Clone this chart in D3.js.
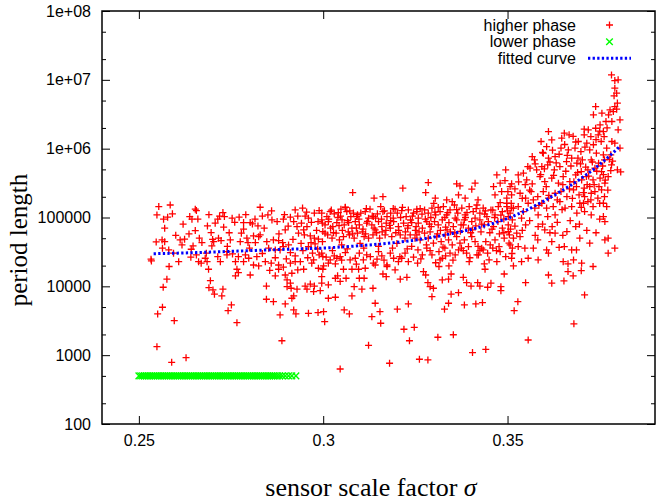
<!DOCTYPE html>
<html><head><meta charset="utf-8">
<script src="https://cdn.jsdelivr.net/npm/d3@7"></script>
<style>html,body{margin:0;padding:0;background:#fff;}svg{display:block;}</style>
</head><body>
<svg id="chart" width="662" height="502"></svg>
<script>
const xTicks=[0.25,0.3,0.35];
const xTickLabels=["0.25","0.3","0.35"];
const yTicks=[100,1000,10000,100000,1e6,1e7,1e8];
const yTickLabels=["100","1000","10000","100000","1e+06","1e+07","1e+08"];
const yMinorTicks=[200,500,2000,5000,20000,50000,200000,500000,2e6,5e6,2e7,5e7];
const seriesNames=["higher phase","lower phase","fitted curve"];
const axisTitleX="sensor scale factor ";
const axisTitleXSymbol="\u03C3";
const axisTitleY="period length";

const higherPhase=[
[0.2554,144000],[0.2585,152000],[0.2549,109000],[0.2567,94500],[0.2578,101000],[0.2591,113000],[0.2638,103000],[0.2644,94500],[0.2653,132000],[0.2656,126000],[0.2686,75500],[0.2696,60300],[0.2707,82600],[0.2714,94500],[0.2719,105000],[0.2728,118000],[0.2732,103000],[0.2730,72300],[0.2547,44200],[0.2563,47300],[0.2570,44600],[0.2564,35800],[0.2581,33800],[0.2594,30300],[0.2612,47300],[0.2624,48400],[0.2617,40000],[0.2636,57800],[0.2653,64500],[0.2664,50000],[0.2671,43200],[0.2647,38700],[0.2642,34600],[0.2641,26500],[0.2656,28600],[0.2662,22800],[0.2669,21700],[0.2680,25600],[0.2685,22800],[0.2683,30300],[0.2698,38700],[0.2703,44600],[0.2716,50000],[0.2723,46200],[0.2714,27000],[0.2721,22800],[0.2739,28600],[0.2533,24800],[0.2608,22800],[0.2582,19400],[0.2689,17700],[0.2576,12700],[0.2566,9700],[0.2694,12100],[0.2690,9570],[0.2701,8860],[0.2705,7680],[0.2725,7250],[0.2728,9080],[0.2564,4970],[0.2551,3970],[0.2596,3170],[0.2742,4430],[0.2549,1330],[0.2628,920],[0.2589,788],[0.2534,23400],[0.2766,2970],
[0.2829,141000],[0.2753,97700],[0.2772,101000],[0.2784,84300],[0.2802,84300],[0.2808,80700],[0.2823,75500],[0.2835,105000],[0.2850,109000],[0.2861,92300],[0.2875,87200],[0.2892,94500],[0.2911,101000],[0.2924,129000],[0.2931,105000],[0.2944,137000],[0.2951,105000],[0.2960,97700],[0.2976,116000],[0.2989,126000],[0.2996,116000],[0.2986,87200],[0.2998,82600],[0.2920,87200],[0.2929,73800],[0.2941,82600],[0.2947,66000],[0.2956,73800],[0.2933,59100],[0.2949,55900],[0.2965,54000],[0.2976,50000],[0.2987,48400],[0.2998,44600],[0.3005,59100],[0.2967,43200],[0.2978,41400],[0.2960,37800],[0.2971,30300],[0.2989,28600],[0.2999,27000],[0.2974,24200],[0.2969,21700],[0.2784,67600],[0.2778,59100],[0.2748,47300],[0.2775,44600],[0.2793,50000],[0.2796,43200],[0.2811,54000],[0.2816,43200],[0.2825,52700],[0.2829,55900],[0.2847,44600],[0.2865,47300],[0.2879,46200],[0.2890,43200],[0.2897,66000],[0.2892,37800],[0.2906,40000],[0.2852,35800],[0.2870,33800],[0.2883,33800],[0.2911,30900],[0.2924,27700],[0.2739,31900],[0.2754,29600],[0.2770,27000],[0.2789,28600],[0.2798,25600],[0.2762,22800],[0.2784,22800],[0.2843,22800],[0.2859,21700],[0.2879,20400],[0.2892,19000],[0.2911,21700],[0.2924,22800],[0.2879,17700],[0.2811,20400],[0.2825,19800],[0.2766,17700],[0.2770,15800],[0.2762,14200],[0.2802,14600],[0.2870,14200],[0.2897,14600],[0.2915,15500],[0.2931,17300],[0.2947,17700],[0.2938,22800],[0.2987,18300],[0.3001,19800],[0.2996,13800],[0.2902,12400],[0.2911,11100],[0.2902,9900],[0.2913,9380],[0.2929,9080],[0.2951,10100],[0.2956,9080],[0.2965,10800],[0.2976,10100],[0.2974,8380],[0.2992,8660],[0.2846,10100],[0.2915,6710],[0.2920,7250],[0.2846,6490],[0.2865,5990],[0.2897,5550],[0.2751,5370],[0.2920,4540],[0.2926,3970],[0.2883,3840],[0.2960,4060],[0.2986,4150],[0.3001,4290],[0.3004,3070],[0.2888,1620],
[0.3080,230000],[0.3138,191000],[0.3162,201000],[0.3216,267000],[0.3010,103000],[0.3019,122000],[0.3030,113000],[0.3041,118000],[0.3048,132000],[0.3060,141000],[0.3064,122000],[0.3075,103000],[0.3082,116000],[0.3091,103000],[0.3102,116000],[0.3114,122000],[0.3123,97700],[0.3127,132000],[0.3136,103000],[0.3147,113000],[0.3156,144000],[0.3162,122000],[0.3173,103000],[0.3183,116000],[0.3195,132000],[0.3201,116000],[0.3213,126000],[0.3225,103000],[0.3231,129000],[0.3245,116000],[0.3254,132000],[0.3258,97700],[0.2996,92300],[0.3005,78100],[0.3014,87200],[0.3026,73800],[0.3037,84300],[0.3051,92300],[0.3057,78100],[0.3069,84300],[0.3078,69900],[0.3087,87200],[0.3098,78100],[0.3108,67600],[0.3118,82600],[0.3132,78100],[0.3141,66000],[0.3150,87200],[0.3159,73800],[0.3171,82600],[0.3182,69900],[0.3191,87200],[0.3204,73800],[0.3218,82600],[0.3229,69900],[0.3240,84300],[0.3252,73800],[0.2999,62400],[0.3012,55900],[0.3024,50000],[0.3035,59100],[0.3044,47300],[0.3055,52700],[0.3071,55900],[0.3084,50000],[0.3093,59100],[0.3111,52700],[0.3123,50000],[0.3135,55900],[0.3153,50000],[0.3168,55900],[0.3186,52700],[0.3209,55900],[0.3222,50000],[0.3236,55900],[0.3249,50000],[0.2996,30300],[0.3008,26500],[0.3019,24200],[0.3030,27700],[0.3037,25600],[0.3014,21700],[0.3033,21200],[0.3046,27000],[0.3060,30900],[0.3073,24200],[0.3087,25600],[0.3098,30300],[0.3109,24200],[0.3118,28600],[0.3136,21700],[0.3141,20400],[0.3146,24800],[0.3159,27700],[0.3173,20400],[0.3182,30300],[0.3191,25600],[0.3204,22800],[0.3213,25600],[0.3222,30300],[0.3231,22800],[0.3245,26500],[0.3256,21700],[0.2999,17700],[0.3055,17700],[0.3078,17700],[0.3096,17700],[0.3114,18300],[0.3173,19400],[0.3195,17300],[0.3033,13100],[0.3039,14200],[0.3062,13100],[0.3098,13100],[0.3111,13100],[0.3162,15100],[0.3171,13800],[0.3209,12700],[0.3227,13500],[0.2996,11100],[0.3014,10500],[0.3046,11800],[0.3084,9900],[0.3105,9080],[0.3135,9380],[0.3014,6710],[0.3033,6940],[0.3078,7250],[0.3057,4540],[0.3071,3970],[0.3141,5680],[0.3154,4290],[0.3132,3630],[0.3156,2910],[0.3201,4650],[0.3231,5550],[0.3219,2380],[0.3247,2540],[0.3234,1620],[0.3123,1390],[0.3180,763],[0.3046,630],[0.3261,872],
[0.3495,492000],[0.3285,322000],[0.3362,308000],[0.3371,288000],[0.3412,315000],[0.3471,416000],[0.3278,230000],[0.3304,191000],[0.3335,180000],[0.3403,258000],[0.3367,213000],[0.3385,191000],[0.3462,281000],[0.3480,315000],[0.3493,344000],[0.3507,281000],[0.3466,213000],[0.3484,238000],[0.3498,191000],[0.3511,213000],
[0.3254,122000],[0.3275,129000],[0.3285,116000],[0.3295,137000],[0.3305,109000],[0.3317,122000],[0.3326,144000],[0.3335,109000],[0.3344,129000],[0.3356,152000],[0.3365,116000],[0.3376,137000],[0.3385,109000],[0.3396,144000],[0.3407,122000],[0.3417,152000],[0.3425,116000],[0.3434,137000],[0.3444,103000],[0.3455,129000],[0.3466,109000],[0.3475,144000],[0.3486,122000],[0.3498,144000],[0.3507,116000],[0.3516,137000],
[0.3258,82600],[0.3269,69900],[0.3281,87200],[0.3293,73800],[0.3302,87200],[0.3312,78100],[0.3323,92300],[0.3332,72300],[0.3341,84300],[0.3353,73800],[0.3362,92300],[0.3374,78100],[0.3383,92300],[0.3394,69900],[0.3403,87200],[0.3414,75500],[0.3425,92300],[0.3437,78100],[0.3448,87200],[0.3462,73800],[0.3474,87200],[0.3486,69900],[0.3502,78100],[0.3513,92300],
[0.3254,55900],[0.3263,47300],[0.3275,59100],[0.3285,50000],[0.3299,42300],[0.3308,52700],[0.3320,44600],[0.3331,55900],[0.3340,47300],[0.3350,40000],[0.3362,52700],[0.3371,42300],[0.3383,47300],[0.3394,37800],[0.3403,52700],[0.3412,44600],[0.3430,35800],[0.3441,44600],[0.3453,40000],[0.3466,47300],[0.3477,37800],[0.3491,50000],[0.3504,42300],[0.3516,50000],
[0.3257,33800],[0.3269,28600],[0.3281,35800],[0.3295,28600],[0.3314,31900],[0.3323,25600],[0.3344,30300],[0.3358,28600],[0.3367,33800],[0.3389,30300],[0.3421,28600],[0.3434,33800],[0.3446,30300],[0.3480,31900],[0.3513,35800],
[0.3317,24200],[0.3332,27700],[0.3396,22800],[0.3417,28600],[0.3450,24200],[0.3471,22800],[0.3314,19400],[0.3341,19800],[0.3437,21200],[0.3439,17700],[0.3516,19800],[0.3272,16400],[0.3278,14600],[0.3347,15100],[0.3323,12400],[0.3340,12700],[0.3491,15100],[0.3284,11300],[0.3290,9900],[0.3299,9380],[0.3380,13500],[0.3389,11300],[0.3401,10100],[0.3419,11300],[0.3425,10100],[0.3446,9700],[0.3455,11100],[0.3482,9900],[0.3482,8660],[0.3295,7080],[0.3347,7680],[0.3367,8100],[0.3340,5680],[0.3329,4650],[0.3383,5370],[0.3414,5550],[0.3432,5800],[0.3518,4430],[0.3311,1820],[0.3353,1980],[0.3405,1090],[0.3441,1210],[0.3284,852],
[0.3611,1770000],[0.3654,1680000],[0.3667,1590000],[0.3708,1920000],[0.3591,1270000],[0.3620,1340000],[0.3606,1070000],[0.3647,1420000],[0.3678,1510000],[0.3692,1270000],[0.3567,768000],[0.3573,688000],[0.3597,860000],[0.3611,728000],[0.3629,768000],[0.3645,1020000],[0.3665,960000],[0.3683,1020000],[0.3699,908000],[0.3561,521000],[0.3543,440000],[0.3579,492000],[0.3593,549000],[0.3609,581000],[0.3627,492000],[0.3642,549000],[0.3660,649000],[0.3674,728000],[0.3688,616000],[0.3703,688000],[0.3529,416000],[0.3511,308000],[0.3552,352000],[0.3567,308000],[0.3588,393000],[0.3601,333000],[0.3620,373000],[0.3638,315000],[0.3651,393000],[0.3669,333000],[0.3685,416000],[0.3701,352000],[0.3501,238000],[0.3534,225000],[0.3549,191000],[0.3564,238000],[0.3582,201000],[0.3597,238000],[0.3611,191000],[0.3629,225000],[0.3645,238000],[0.3661,201000],[0.3679,252000],[0.3694,213000],[0.3708,267000],[0.3498,161000],[0.3511,137000],[0.3529,144000],[0.3543,122000],[0.3556,161000],[0.3574,137000],[0.3593,161000],[0.3606,137000],[0.3624,144000],[0.3642,170000],[0.3656,137000],[0.3674,144000],[0.3688,116000],[0.3706,161000],[0.3502,103000],[0.3538,97700],[0.3549,78100],[0.3583,109000],[0.3609,103000],[0.3629,109000],[0.3502,62400],[0.3525,59100],[0.3534,52700],[0.3583,73800],[0.3601,66000],[0.3621,73800],[0.3629,59100],[0.3661,62400],[0.3685,73800],[0.3507,40000],[0.3529,37800],[0.3547,35800],[0.3570,35800],[0.3582,47300],[0.3606,33800],[0.3620,44600],[0.3654,37800],[0.3674,33800],[0.3511,25600],[0.3538,22800],[0.3556,25600],[0.3583,24200],[0.3611,30300],[0.3651,22800],[0.3679,24200],[0.3701,21700],[0.3664,16400],[0.3611,14600],[0.3620,11100],[0.3549,11300],[0.3528,5990],[0.3680,2850],[0.3556,1660],[0.3653,12000],[0.3678,14200],[0.3664,21200],[0.3640,36800],
[0.3782,11800000],[0.3791,9770000],[0.3800,10000000],[0.3791,7570000],[0.3796,6410000],[0.3789,5850000],[0.3798,4590000],[0.3791,4090000],[0.3739,4090000],[0.3778,3660000],[0.3787,3460000],[0.3796,3750000],[0.3733,3100000],[0.3756,3280000],[0.3774,3100000],[0.3783,2480000],[0.3805,2620000],[0.3751,2220000],[0.3767,2480000],[0.3800,1880000],[0.3719,1880000],[0.3739,1980000],[0.3708,1590000],[0.3726,1500000],[0.3746,1590000],[0.3760,1770000],[0.3783,1270000],[0.3791,1200000],[0.3805,1020000],[0.3715,1200000],[0.3733,1140000],[0.3754,1270000],[0.3769,1020000],[0.3723,960000],[0.3741,860000],[0.3760,813000],[0.3780,813000],[0.3691,728000],[0.3727,688000],[0.3747,616000],[0.3763,688000],[0.3782,581000],[0.3798,492000],[0.3700,465000],[0.3718,492000],[0.3737,521000],[0.3755,465000],[0.3773,393000],[0.3714,393000],[0.3732,352000],[0.3751,373000],[0.3764,315000],[0.3687,281000],[0.3723,281000],[0.3737,238000],[0.3755,252000],[0.3709,201000],[0.3727,225000],[0.3745,191000],[0.3763,201000],[0.3696,161000],[0.3718,170000],[0.3732,144000],[0.3760,161000],[0.3769,144000],[0.3709,122000],[0.3727,109000],[0.3760,103000],[0.3764,87200],[0.3696,50000],[0.3723,42300],[0.3764,47300],[0.3773,50000],[0.3791,35800],[0.3773,30300],[0.3687,33800],[0.3700,16900],[0.3732,19400],[0.3709,7500],[0.3807,460000],
[0.3575,600000],[0.3590,420000],[0.3605,280000],[0.3615,640000],[0.3625,410000],[0.3635,180000],[0.3640,830000],[0.3650,300000],[0.3658,470000],[0.3668,260000],[0.3672,560000],[0.3680,330000],[0.3690,450000],[0.3698,600000],[0.3706,230000],[0.3712,540000],[0.3720,400000],[0.3730,640000],[0.3735,300000],[0.3742,470000],[0.3750,160000],[0.3758,560000],[0.3765,350000],[0.3772,250000],[0.3780,480000],[0.3785,660000],[0.3560,250000],[0.3570,180000],[0.3585,150000],[0.3600,510000],[0.3612,210000],[0.3632,620000],[0.3648,130000],[0.3662,800000],[0.3676,190000],[0.3700,140000],[0.3716,300000],[0.3726,180000],[0.3748,280000],[0.3760,420000],[0.3776,700000],[0.3548,300000],[0.3555,550000],[0.3540,190000],[0.3530,330000],[0.3520,260000],[0.3510,160000],[0.3595,880000],[0.3622,950000],[0.3655,1150000],[0.3685,1250000],[0.3710,1050000],[0.3740,1350000],[0.3762,1500000],[0.3770,2000000],[0.3750,1800000],
[0.3015,95000],[0.3028,60000],[0.3040,100000],[0.3052,65000],[0.3066,90000],[0.3080,58000],[0.3093,110000],[0.3106,62000],[0.3120,88000],[0.3133,105000],[0.3145,60000],[0.3158,95000],[0.3170,65000],[0.3183,90000],[0.3197,60000],[0.3210,100000],[0.3223,62000],[0.3237,92000],[0.3250,65000],[0.3263,135000],[0.3277,95000],[0.3290,62000],[0.3303,120000],[0.3318,65000],[0.3330,100000],[0.3345,62000],[0.3358,98000],[0.3372,63000],[0.3386,100000],[0.3400,60000],[0.3412,98000],[0.3428,62000],[0.3440,125000],[0.3452,60000],[0.3465,100000],[0.3478,58000],[0.3490,95000],[0.3505,56000],[0.3050,40000],[0.3100,42000],[0.3150,38000],[0.3200,42000],[0.3240,38000],[0.3280,40000],[0.3330,36000],[0.3380,33000],[0.3420,38000],[0.3470,33000],[0.3512,30000],[0.3060,140000],[0.3190,135000],[0.3300,160000],[0.3350,170000],[0.3420,180000],[0.3480,165000],
[0.3022,128000],[0.3047,105000],[0.3072,125000],[0.3097,95000],[0.3117,135000],[0.3142,98000],[0.3166,125000],[0.3190,98000],[0.3215,140000],[0.3242,105000],[0.3268,112000],[0.3292,100000],[0.3312,140000],[0.3338,118000],[0.3362,130000],[0.3390,118000],[0.3415,135000],[0.3438,112000],[0.3460,128000],[0.3482,108000],[0.3500,125000],
[0.3020,70000],[0.3043,76000],[0.3068,62000],[0.3090,70000],[0.3115,58000],[0.3138,70000],[0.3160,62000],[0.3180,77000],[0.3205,65000],[0.3230,76000],[0.3260,62000],[0.3288,80000],[0.3310,58000],[0.3336,66000],[0.3357,60000],[0.3380,78000],[0.3405,66000],[0.3430,80000],[0.3458,68000],[0.3490,60000],[0.3508,68000],
[0.3025,33000],[0.3050,24000],[0.3065,35000],[0.3090,21000],[0.3110,36000],[0.3128,27000],[0.3150,32000],[0.3165,24000],[0.3188,36000],[0.3208,27000],[0.3228,35000],[0.3265,25000],[0.3290,33000],[0.3305,22000],[0.3325,37000],[0.3352,24000],[0.3375,36000],[0.3398,26000],[0.3425,33000],[0.3460,36000],[0.3495,27000],
[0.2570,70000],[0.2600,55000],[0.2620,80000],[0.2660,95000],[0.2690,110000],[0.2700,48000],[0.2745,60000],[0.2760,85000],[0.2790,110000],[0.2815,95000],[0.2840,70000],[0.2860,125000],[0.2880,58000],[0.2895,110000],[0.2905,75000],[0.2918,48000],[0.2940,42000],[0.2955,120000],[0.2968,85000],[0.2982,65000],[0.2740,38000],[0.2800,36000],[0.2835,30000],[0.2870,26000],[0.2900,25000],[0.2945,33000],[0.2958,26000],[0.2985,35000],[0.2855,17000],[0.2820,27000],
[0.3520,75000],[0.3540,65000],[0.3560,90000],[0.3575,55000],[0.3595,80000],[0.3615,60000],[0.3635,85000],[0.3650,55000],[0.3670,90000],[0.3695,80000],[0.3715,65000],[0.3740,60000],[0.3750,95000]
];

const lowerPhase=[
[0.2500,500],[0.2505,500],[0.2510,500],[0.2515,500],[0.2520,500],[0.2525,500],[0.2530,500],[0.2535,500],[0.2540,500],[0.2545,500],
[0.2550,500],[0.2555,500],[0.2560,500],[0.2565,500],[0.2570,500],[0.2575,500],[0.2580,500],[0.2585,500],[0.2590,500],[0.2595,500],
[0.2600,500],[0.2605,500],[0.2610,500],[0.2615,500],[0.2620,500],[0.2625,500],[0.2630,500],[0.2635,500],[0.2640,500],[0.2645,500],
[0.2650,500],[0.2655,500],[0.2660,500],[0.2665,500],[0.2670,500],[0.2675,500],[0.2680,500],[0.2685,500],[0.2690,500],[0.2695,500],
[0.2700,500],[0.2705,500],[0.2710,500],[0.2715,500],[0.2720,500],[0.2725,500],[0.2730,500],[0.2735,500],[0.2740,500],[0.2745,500],
[0.2750,500],[0.2755,500],[0.2760,500],[0.2765,500],[0.2770,500],[0.2775,500],[0.2780,500],[0.2785,500],[0.2790,500],[0.2795,500],
[0.2800,500],[0.2805,500],[0.2810,500],[0.2815,500],[0.2820,500],[0.2825,500],[0.2830,500],[0.2835,500],[0.2840,500],[0.2845,500],
[0.2850,500],[0.2855,500],[0.2860,500],[0.2865,500],[0.2870,500],[0.2876,500],[0.2882,500],[0.2889,500],[0.2897,500],[0.2906,500],
[0.2915,500],[0.2926,500]
];

const fitSigma=[0.2540,0.26,0.27,0.28,0.29,0.30,0.31,0.32,0.325,0.33,0.335,0.34,0.345,0.35,0.355,0.36,0.365,0.37,0.375,0.3805];
const fitPeriod=[29800,30300,31500,33000,34500,36000,39000,43500,47000,52000,58500,67000,79000,97000,127000,175000,250000,370000,590000,1080000];

const L=102,R=655,T=11,B=424;
const svg=d3.select("#chart");
const x=d3.scaleLinear().domain([0.24,0.39]).range([L,R]);
const y=d3.scaleLog().domain([100,1e8]).range([B,T]);
const sans="'Liberation Sans', Arial, Helvetica, sans-serif";
const serif="'Liberation Serif', 'Times New Roman', serif";
const plusPath="M-3.5,0H3.5M0,-3.5V3.5";
const crossPath="M-3.3,-3.3L3.3,3.3M-3.3,3.3L3.3,-3.3";

function styleAxis(g){
  g.select(".domain").remove();
  g.selectAll(".tick line").attr("stroke","#000").attr("stroke-width",1);
  g.selectAll(".tick text").attr("fill","#000").style("font-family",sans).style("font-size","16px");
}
svg.append("g").attr("transform",`translate(${L},0)`)
  .call(d3.axisLeft(y).tickValues(yTicks).tickFormat((d,i)=>yTickLabels[i]).tickSizeInner(-8).tickSizeOuter(0).tickPadding(11))
  .call(styleAxis);
svg.append("g").attr("transform",`translate(${L},0)`)
  .call(d3.axisLeft(y).tickValues(yMinorTicks).tickFormat("").tickSizeInner(-4).tickSizeOuter(0))
  .call(styleAxis);
svg.append("g").attr("transform",`translate(${R},0)`)
  .call(d3.axisRight(y).tickValues(yTicks).tickFormat("").tickSizeInner(-8).tickSizeOuter(0))
  .call(styleAxis);
svg.append("g").attr("transform",`translate(${R},0)`)
  .call(d3.axisRight(y).tickValues(yMinorTicks).tickFormat("").tickSizeInner(-4).tickSizeOuter(0))
  .call(styleAxis);
svg.append("g").attr("transform",`translate(0,${B})`)
  .call(d3.axisBottom(x).tickValues(xTicks).tickFormat((d,i)=>xTickLabels[i]).tickSizeInner(-8).tickSizeOuter(0).tickPadding(11))
  .call(styleAxis);
svg.append("g").attr("transform",`translate(0,${T})`)
  .call(d3.axisTop(x).tickValues(xTicks).tickFormat("").tickSizeInner(-8).tickSizeOuter(0))
  .call(styleAxis);

svg.append("g").selectAll("path").data(higherPhase).join("path")
  .attr("transform",d=>`translate(${x(d[0])},${y(d[1])})`)
  .attr("d",plusPath).attr("fill","none").attr("stroke","#ff0000").attr("stroke-width",1.3);
svg.append("g").selectAll("path").data(lowerPhase).join("path")
  .attr("transform",d=>`translate(${x(d[0])},${y(d[1])})`)
  .attr("d",crossPath).attr("fill","none").attr("stroke","#00ff00").attr("stroke-width",1.4);
const fitData=fitSigma.map((s,i)=>[s,fitPeriod[i]]);
svg.append("path").datum(fitData)
  .attr("d",d3.line().x(d=>x(d[0])).y(d=>y(d[1])).curve(d3.curveMonotoneX))
  .attr("fill","none").attr("stroke","#0000ff").attr("stroke-width",3).attr("stroke-dasharray","2.3,2.3");

svg.append("rect").attr("x",L).attr("y",T).attr("width",R-L).attr("height",B-T)
  .attr("fill","none").attr("stroke","#000").attr("stroke-width",1.5);

const legY=[25,41.7,58.3];
const leg=svg.append("g");
seriesNames.forEach((n,i)=>{
  leg.append("text").attr("x",576).attr("y",legY[i]+5.7).attr("text-anchor","end")
    .style("font-family",sans).style("font-size","16px").attr("fill","#000").text(n);
});
leg.append("path").attr("transform",`translate(609.5,${legY[0]})`).attr("d",plusPath)
  .attr("fill","none").attr("stroke","#ff0000").attr("stroke-width",1.3);
leg.append("path").attr("transform",`translate(609.5,${legY[1]})`).attr("d",crossPath)
  .attr("fill","none").attr("stroke","#00ff00").attr("stroke-width",1.4);
leg.append("line").attr("x1",588).attr("x2",631).attr("y1",legY[2]).attr("y2",legY[2])
  .attr("stroke","#0000ff").attr("stroke-width",3).attr("stroke-dasharray","2.3,2.3");

const xt=svg.append("text").attr("x",371).attr("y",496).attr("text-anchor","middle")
  .style("font-family",serif).style("font-size","26px").attr("fill","#000");
xt.append("tspan").text(axisTitleX);
xt.append("tspan").style("font-style","italic").text(axisTitleXSymbol);
svg.append("text").attr("transform","translate(27,240) rotate(-90)").attr("text-anchor","middle")
  .style("font-family",serif).style("font-size","25px").attr("fill","#000").text(axisTitleY);
</script>
</body></html>
